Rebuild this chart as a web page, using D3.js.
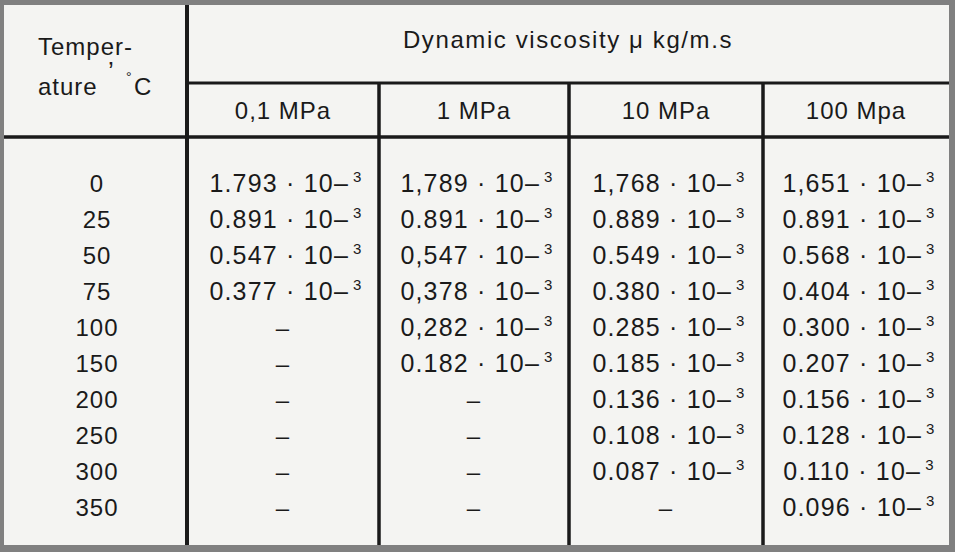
<!DOCTYPE html>
<html><head><meta charset="utf-8">
<script src="https://cdn.jsdelivr.net/npm/d3@7"></script>
<style>body{margin:0;background:#808080}svg{display:block}</style>
</head><body>
<script>
const temperatures = ["0","25","50","75","100","150","200","250","300","350"];
const pressures = ["0,1 MPa","1 MPa","10 MPa","100 Mpa"];
const p01 = ["1.793","0.891","0.547","0.377",null,null,null,null,null,null];
const p1 = ["1,789","0.891","0,547","0,378","0,282","0.182",null,null,null,null];
const p10 = ["1,768","0.889","0.549","0.380","0.285","0.185","0.136","0.108","0.087",null];
const p100 = ["1,651","0.891","0.568","0.404","0.300","0.207","0.156","0.128","0.110","0.096"];
const series = [p01,p1,p10,p100];

const W=955,H=552;
const svg=d3.select("body").append("svg").attr("width",W).attr("height",H);
svg.append("rect").attr("width",W).attr("height",H).attr("fill","#808080");
svg.append("rect").attr("x",4).attr("y",5).attr("width",945).attr("height",540).attr("fill","#f4f4f2");

const colEdges=[187,379,569,763,949];
const y=d3.scalePoint().domain(temperatures).range([183,507]);
const font="Liberation Sans, Arial, sans-serif";
const ink="#1a1a1a";
const line=(x1,y1,x2,y2,w)=>svg.append("line").attr("x1",x1).attr("y1",y1).attr("x2",x2).attr("y2",y2).attr("stroke",ink).attr("stroke-width",w);

line(187,5,187,545,4);
line(187,83,949,83,3);
line(4,137,949,137,3.5);
[379,569,763].forEach(x=>line(x,83,x,545,3.5));

const T=(x,yy,s,anchor="middle",size=24,ls=1)=>svg.append("text").attr("x",x).attr("y",yy).attr("text-anchor",anchor)
  .attr("font-family",font).attr("font-size",size).attr("letter-spacing",ls).attr("fill",ink).text(s);

T(38,55,"Temper-","start");
T(38,95,"ature","start");
T(108,80,"’","start",26);
T(126,82,"°","start",14);
T(134,95,"C","start");
T(568,48,"Dynamic viscosity μ kg/m.s","middle",24,1.6);

pressures.forEach((p,i)=>{
  const cx=(colEdges[i]+colEdges[i+1])/2;
  T(cx,119,p);
});

temperatures.forEach(t=>T(97,y(t)+9,t));

series.forEach((col,i)=>{
  const cx=(colEdges[i]+colEdges[i+1])/2;
  col.forEach((v,j)=>{
    const yy=y(temperatures[j])+9;
    if(v===null){ T(cx,yy,"–"); return; }
    const t=svg.append("text").attr("x",cx+3).attr("y",yy).attr("text-anchor","middle")
      .attr("font-family",font).attr("font-size",25).attr("letter-spacing",1.2).attr("fill",ink);
    t.append("tspan").text(v+" · 10–");
    t.append("tspan").attr("font-size",15).attr("dy",-10).attr("dx",4).text("3");
  });
});
</script>
</body></html>
